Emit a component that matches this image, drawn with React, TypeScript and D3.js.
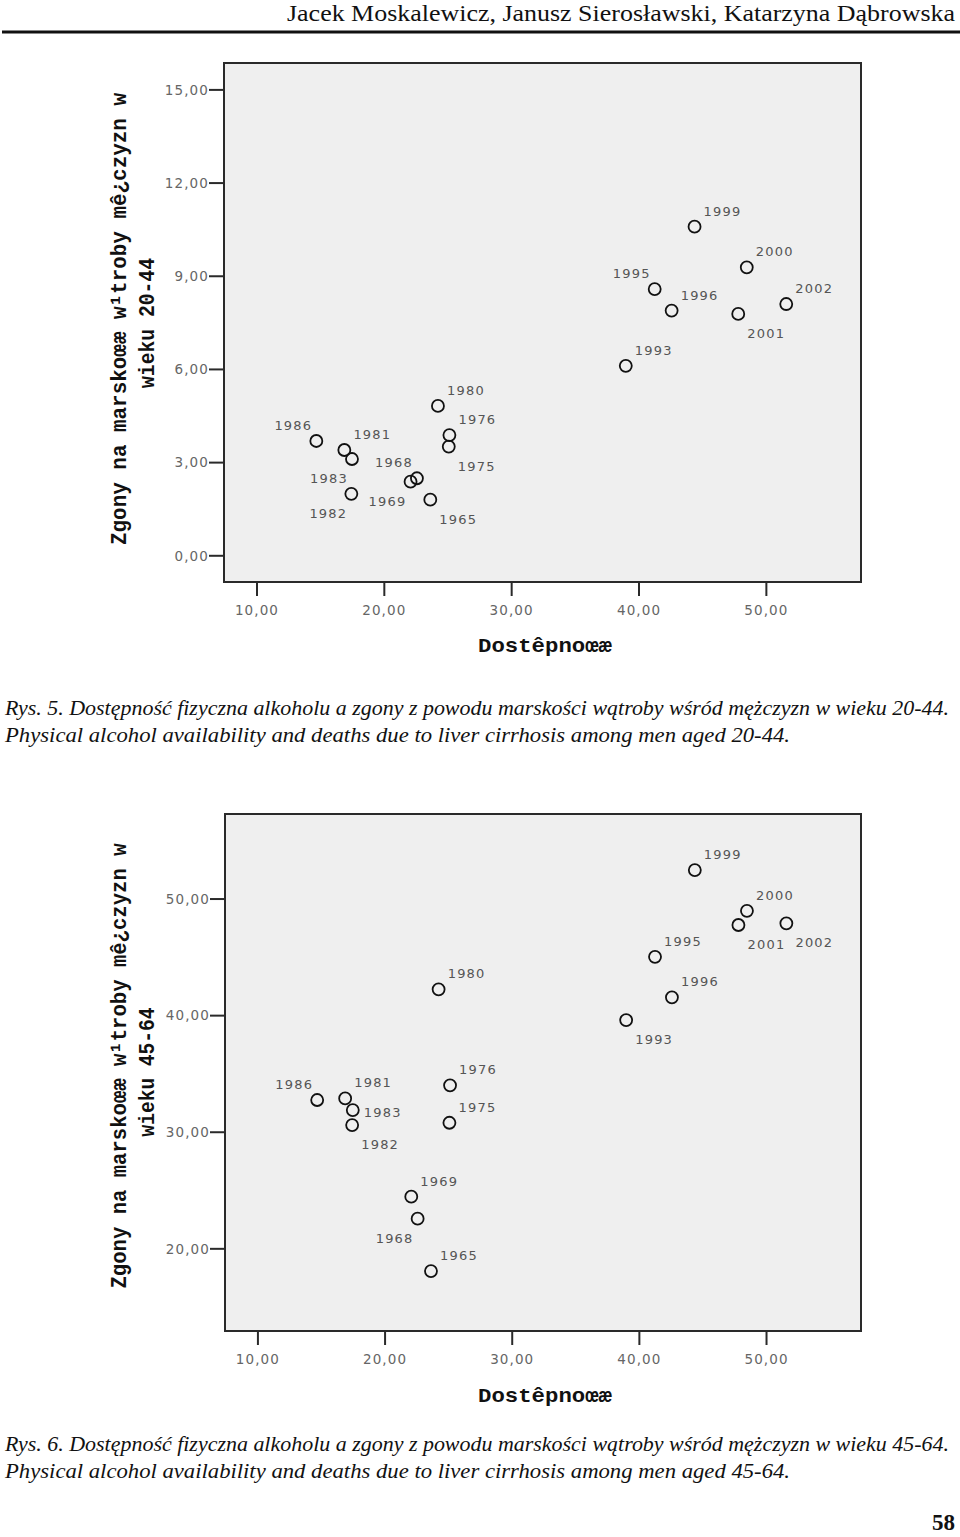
import { useEffect, useRef } from 'react';
import * as d3 from 'd3';

const years = [1965, 1968, 1969, 1975, 1976, 1980, 1981, 1982, 1983, 1986, 1993, 1995, 1996, 1999, 2000, 2001, 2002];
const availability = [23.65, 22.6, 22.1, 25.1, 25.15, 24.25, 16.9, 17.45, 17.5, 14.7, 39.0, 41.27, 42.6, 44.4, 48.5, 47.83, 51.6];
const deaths2044 = [1.79, 2.48, 2.37, 3.5, 3.87, 4.81, 3.39, 1.98, 3.1, 3.68, 6.1, 8.57, 7.88, 10.58, 9.27, 7.77, 8.09];
const deaths4564 = [18.05, 22.54, 24.43, 30.77, 33.98, 42.21, 32.86, 30.57, 31.86, 32.72, 39.58, 45.0, 41.53, 52.44, 48.95, 47.73, 47.87];
const labelSide2044 = ['se', 'nw', 'sw', 'se', 'ne', 'ne', 'ne', 'sw', 'sw', 'nw', 'ne', 'nw', 'ne', 'ne', 'ne', 'se', 'ne'];
const labelSide4564 = ['ne', 'sw', 'ne', 'ne', 'ne', 'ne', 'ne', 'se', 'e', 'nw', 'se', 'ne', 'ne', 'ne', 'ne', 'se', 'se'];

const yTicks2044 = [0, 3, 6, 9, 12, 15];
const yTicks4564 = [20, 30, 40, 50];
const xTicks = [10, 20, 30, 40, 50];

const yTitle = 'Zgony na marskoœæ w¹troby mê¿czyzn w';
const xTitle = 'Dostêpnoœæ';

const sideOffset: Record<string, [number, number]> = {
  ne: [28, -16], nw: [-23, -16], se: [28, 19], sw: [-23, 19], e: [30, 2],
};

const fmt = (v: number) => d3.format('.2f')(v).replace('.', ',');

interface Panel {
  box: { x0: number; x1: number; y0: number; y1: number };
  yDomain: [number, number];
  yTicks: number[];
  values: number[];
  sides: string[];
  ageLine: string;
  title1: { x: number; cy: number; len: number };
  title2: { x: number; cy: number; len: number };
  xTitleY: number;
}

const panels: Panel[] = [
  {
    box: { x0: 224, x1: 861, y0: 63, y1: 582 },
    yDomain: [-0.86, 15.85],
    yTicks: yTicks2044,
    values: deaths2044,
    sides: labelSide2044,
    ageLine: 'wieku 20-44',
    title1: { x: 126, cy: 319, len: 452 },
    title2: { x: 154, cy: 323, len: 130 },
    xTitleY: 652,
  },
  {
    box: { x0: 225, x1: 861, y0: 814, y1: 1331 },
    yDomain: [12.91, 57.25],
    yTicks: yTicks4564,
    values: deaths4564,
    sides: labelSide4564,
    ageLine: 'wieku 45-64',
    title1: { x: 126, cy: 1066, len: 445 },
    title2: { x: 154, cy: 1072, len: 129 },
    xTitleY: 1402,
  },
];

const captions = [
  { y: 715, pl: 'Rys. 5. Dostępność fizyczna alkoholu a zgony z powodu marskości wątroby wśród mężczyzn w wieku 20-44.', en: 'Physical alcohol availability and deaths due to liver cirrhosis among men aged 20-44.' },
  { y: 1451, pl: 'Rys. 6. Dostępność fizyczna alkoholu a zgony z powodu marskości wątroby wśród mężczyzn w wieku 45-64.', en: 'Physical alcohol availability and deaths due to liver cirrhosis among men aged 45-64.' },
];

export default function App() {
  const svgRef = useRef<SVGSVGElement>(null);

  useEffect(() => {
    if (!svgRef.current) return;
    const svg = d3.select(svgRef.current);
    svg.selectAll('*').remove();

    // page header
    svg.append('text')
      .attr('x', 955).attr('y', 21).attr('text-anchor', 'end')
      .attr('font-family', '"Liberation Serif", serif').attr('font-size', 24)
      .attr('textLength', 668).attr('lengthAdjust', 'spacingAndGlyphs')
      .attr('fill', '#111')
      .text('Jacek Moskalewicz, Janusz Sierosławski, Katarzyna Dąbrowska');
    svg.append('line')
      .attr('x1', 2).attr('x2', 960).attr('y1', 32).attr('y2', 32)
      .attr('stroke', '#111').attr('stroke-width', 3);

    panels.forEach(p => {
      const { box } = p;
      const x = d3.scaleLinear().domain([7.45, 57.47]).range([box.x0, box.x1]);
      const y = d3.scaleLinear().domain(p.yDomain).range([box.y1, box.y0]);
      const g = svg.append('g');

      g.append('rect')
        .attr('x', box.x0).attr('y', box.y0)
        .attr('width', box.x1 - box.x0).attr('height', box.y1 - box.y0)
        .attr('fill', '#efefef').attr('stroke', '#2a2a2a').attr('stroke-width', 2);

      // y axis
      const yAxis = g.append('g').attr('transform', `translate(${box.x0},0)`)
        .call(d3.axisLeft(y).tickValues(p.yTicks).tickSize(15).tickPadding(0).tickFormat(d => fmt(+d)));
      yAxis.select('.domain').remove();
      yAxis.selectAll('.tick line').attr('stroke', '#2a2a2a').attr('stroke-width', 2);
      yAxis.selectAll('.tick text')
        .attr('fill', '#666').attr('font-size', 13.5).attr('letter-spacing', 1.1)
        .attr('font-family', '"DejaVu Sans", sans-serif').attr('dy', '0.35em');

      // x axis
      const xAxis = g.append('g').attr('transform', `translate(0,${box.y1})`)
        .call(d3.axisBottom(x).tickValues(xTicks).tickSize(14).tickPadding(9).tickFormat(d => fmt(+d)));
      xAxis.select('.domain').remove();
      xAxis.selectAll('.tick line').attr('stroke', '#2a2a2a').attr('stroke-width', 2);
      xAxis.selectAll('.tick text')
        .attr('fill', '#666').attr('font-size', 13.5).attr('letter-spacing', 1.1)
        .attr('font-family', '"DejaVu Sans", sans-serif');

      // titles
      g.append('text')
        .attr('transform', `translate(${p.title1.x},${p.title1.cy}) rotate(-90)`)
        .attr('text-anchor', 'middle')
        .attr('font-family', '"Liberation Mono", monospace').attr('font-weight', 'bold').attr('font-size', 22)
        .attr('textLength', p.title1.len).attr('lengthAdjust', 'spacingAndGlyphs')
        .attr('fill', '#111').text(yTitle);
      g.append('text')
        .attr('transform', `translate(${p.title2.x},${p.title2.cy}) rotate(-90)`)
        .attr('text-anchor', 'middle')
        .attr('font-family', '"Liberation Mono", monospace').attr('font-weight', 'bold').attr('font-size', 22)
        .attr('textLength', p.title2.len).attr('lengthAdjust', 'spacingAndGlyphs')
        .attr('fill', '#111').text(p.ageLine);
      g.append('text')
        .attr('x', 545).attr('y', p.xTitleY).attr('text-anchor', 'middle')
        .attr('font-family', '"Liberation Mono", monospace').attr('font-weight', 'bold').attr('font-size', 21)
        .attr('textLength', 134).attr('lengthAdjust', 'spacingAndGlyphs')
        .attr('fill', '#111').text(xTitle);

      const pts = years.map((yr, i) => ({ yr, a: availability[i], v: p.values[i], side: p.sides[i] }));

      g.selectAll('circle.pt').data(pts).join('circle')
        .attr('class', 'pt')
        .attr('cx', d => x(d.a)).attr('cy', d => y(d.v)).attr('r', 6)
        .attr('fill', 'none').attr('stroke', '#111').attr('stroke-width', 1.8);

      g.selectAll('text.lbl').data(pts).join('text')
        .attr('class', 'lbl')
        .attr('x', d => x(d.a) + sideOffset[d.side][0])
        .attr('y', d => y(d.v) + sideOffset[d.side][1] + 5)
        .attr('text-anchor', 'middle')
        .attr('font-family', '"DejaVu Sans", sans-serif').attr('font-size', 13).attr('letter-spacing', 1.2)
        .attr('fill', '#555')
        .text(d => d.yr);
    });

    captions.forEach(c => {
      svg.append('text')
        .attr('x', 5).attr('y', c.y)
        .attr('font-family', '"Liberation Serif", serif').attr('font-style', 'italic').attr('font-size', 21)
        .attr('textLength', 944).attr('lengthAdjust', 'spacingAndGlyphs')
        .attr('fill', '#111').text(c.pl);
      svg.append('text')
        .attr('x', 5).attr('y', c.y + 27)
        .attr('font-family', '"Liberation Serif", serif').attr('font-style', 'italic').attr('font-size', 21)
        .attr('textLength', 785).attr('lengthAdjust', 'spacingAndGlyphs')
        .attr('fill', '#111').text(c.en);
    });

    svg.append('text')
      .attr('x', 955).attr('y', 1530).attr('text-anchor', 'end')
      .attr('font-family', '"Liberation Serif", serif').attr('font-weight', 'bold').attr('font-size', 23)
      .attr('fill', '#111').text('58');
  }, []);

  return (
    <svg ref={svgRef} width={960} height={1537}
      style={{ position: 'absolute', left: 0, top: 0, background: '#fff' }} />
  );
}
